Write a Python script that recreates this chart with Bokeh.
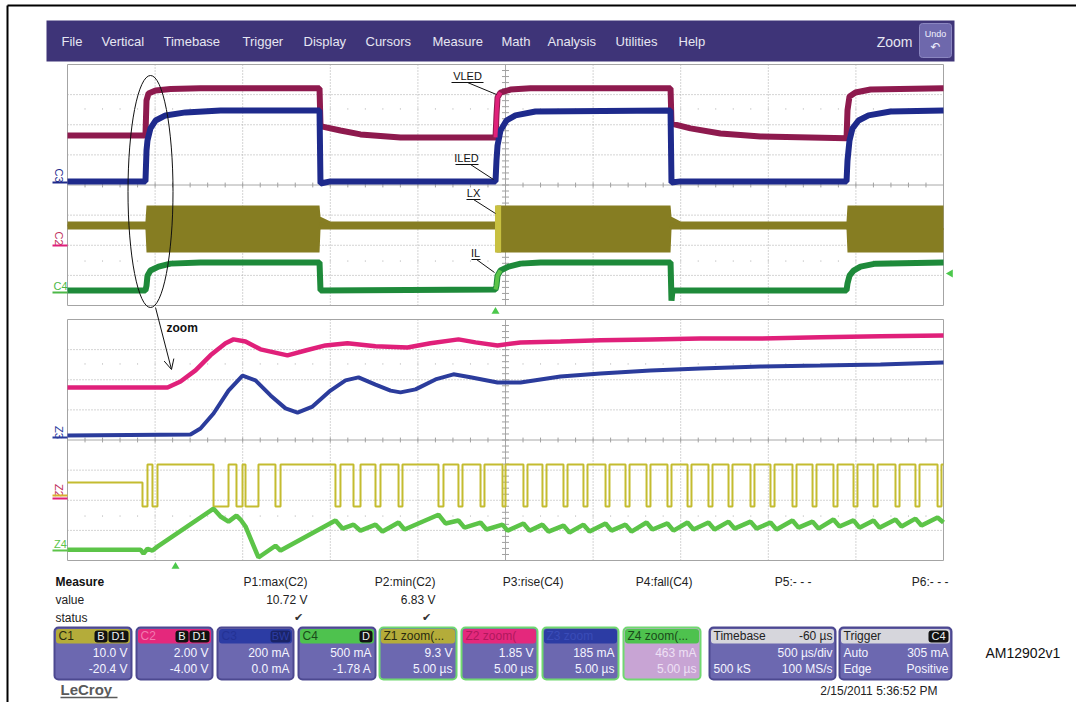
import math
from bokeh.plotting import figure
from bokeh.models import Range1d, Arrow, OpenHead
from bokeh.embed import file_html
from bokeh.resources import INLINE
from bokeh.core.properties import value

# ---------------- DATA (divisions: x 0..10, y -4..4) ----------------
# Upper panel (500 us/div)
vled_x = [0, 0.890, 0.902, 0.925, 1.005, 1.176, 1.518, 2.877, 2.888, 2.911, 3.116, 3.345, 3.801, 4.886,
          4.897, 4.909, 4.943, 5.057, 5.285, 6.884, 6.895, 7.112, 7.454, 7.911, 8.893, 8.904, 8.927, 8.995, 9.167, 10]
vled_y = [1.64, 1.64, 2.81, 3.04, 3.14, 3.19, 3.21, 3.21, 1.98, 1.94, 1.81, 1.68, 1.58, 1.58,
          2.31, 2.91, 3.07, 3.17, 3.21, 3.21, 2.04, 1.88, 1.71, 1.61, 1.55, 2.48, 2.94, 3.07, 3.17, 3.21]

iled_x = [0, 0.890, 0.902, 0.913, 0.947, 1.005, 1.119, 1.347, 1.747, 2.877, 2.888, 3.002, 4.886, 4.897, 4.909,
          4.943, 5.011, 5.114, 5.342, 6.884, 6.895, 6.998, 8.893, 8.904, 8.927, 8.961, 9.030, 9.144, 9.395, 10]
iled_y = [0.12, 0.12, 1.15, 1.48, 1.88, 2.14, 2.31, 2.41, 2.47, 2.47, 0.05, 0.12, 0.12, 0.81, 1.31,
          1.81, 2.14, 2.31, 2.44, 2.47, 0.08, 0.12, 0.12, 0.81, 1.48, 1.88, 2.14, 2.31, 2.44, 2.47]

lx_x = [0, 0.890, 0.902, 2.877, 2.888, 3.002, 4.886, 4.897, 6.884, 6.895, 7.000, 8.893, 8.904, 10]
lx_top = [-1.21, -1.21, -0.68, -0.68, -1.05, -1.21, -1.21, -0.68, -0.68, -1.05, -1.21, -1.21, -0.68, -0.68]
lx_bot = [-1.48, -1.48, -2.24, -2.24, -1.48, -1.48, -1.48, -2.24, -2.24, -1.48, -1.48, -1.48, -2.24, -2.24]

il_x = [0, 0.890, 0.902, 0.913, 0.947, 1.039, 1.176, 1.518, 2.877, 2.888, 4.886, 4.897, 4.909, 4.943,
        5.034, 5.171, 5.400, 6.884, 6.895, 6.906, 8.893, 8.904, 8.927, 8.973, 9.053, 9.224, 10]
il_y = [-3.50, -3.50, -3.34, -3.01, -2.84, -2.71, -2.61, -2.57, -2.57, -3.50, -3.47, -3.34, -3.01, -2.84,
        -2.71, -2.61, -2.57, -2.57, -3.84, -3.50, -3.50, -3.27, -3.01, -2.84, -2.71, -2.61, -2.57]

# zoom window shown highlighted on the upper traces (divisions)
zoom_win = [4.880, 4.950]

# Lower panel (zoom, 5 us/div)
z2_x = [0, 1.142, 1.290, 1.461, 1.632, 1.804, 1.895, 2.032, 2.203, 2.511, 2.717, 2.945, 3.196, 3.516,
        3.881, 4.144, 4.463, 4.658, 4.909, 5.171, 5.628, 6.084, 6.655, 7.226, 7.911, 8.596, 9.281, 10]
z2_y = [1.74, 1.74, 1.94, 2.31, 2.81, 3.21, 3.34, 3.27, 3.01, 2.81, 2.97, 3.14, 3.21, 3.11,
        3.07, 3.21, 3.34, 3.24, 3.14, 3.24, 3.27, 3.31, 3.34, 3.37, 3.37, 3.41, 3.44, 3.47]

z3_x = [0, 1.404, 1.518, 1.667, 1.838, 1.998, 2.146, 2.318, 2.489, 2.626, 2.797, 3.002, 3.174, 3.322, 3.516,
        3.688, 3.801, 3.973, 4.201, 4.406, 4.600, 4.909, 5.171, 5.628, 6.084, 6.655, 7.226, 7.911, 8.596, 9.281, 10]
z3_y = [0.15, 0.18, 0.38, 0.88, 1.64, 2.14, 1.98, 1.48, 1.05, 0.91, 1.11, 1.64, 1.98, 2.08, 1.84,
        1.64, 1.58, 1.68, 2.01, 2.18, 2.08, 1.91, 1.91, 2.11, 2.21, 2.31, 2.37, 2.44, 2.47, 2.51, 2.57]

z1_idle, z1_high, z1_low = -1.41, -0.81, -2.21
z1_pulse_start = [0.856, 0.970, 1.667, 1.929, 2.032, 2.374, 3.059, 3.265, 3.516, 3.779, 4.235, 4.463, 4.715,
                  4.966, 5.205, 5.422, 5.662, 5.890, 6.142, 6.370, 6.610, 6.849, 7.078, 7.317, 7.546, 7.797,
                  8.025, 8.276, 8.505, 8.744, 8.973, 9.201, 9.452, 9.680, 9.932]
z1_pulse_end = [0.913, 1.027, 1.838, 1.998, 2.180, 2.432, 3.116, 3.345, 3.573, 3.824, 4.292, 4.509, 4.760,
                5.000, 5.251, 5.468, 5.708, 5.936, 6.187, 6.416, 6.655, 6.895, 7.123, 7.363, 7.591, 7.842,
                8.071, 8.322, 8.550, 8.790, 9.018, 9.247, 9.498, 9.726, 9.977]

z4_x = [0, 0.833, 0.868, 0.913, 0.970, 1.027, 1.667, 1.747, 1.838, 1.929, 1.975, 2.032, 2.180, 2.374, 2.432,
        3.059, 3.139, 3.265, 3.345, 3.516, 3.596, 3.779, 3.847, 4.235, 4.315, 4.463, 4.532, 4.715, 4.783,
        4.966, 5.023, 5.205, 5.274, 5.422, 5.491, 5.662, 5.731, 5.890, 5.959, 6.142, 6.210, 6.370, 6.438,
        6.610, 6.678, 6.849, 6.918, 7.078, 7.146, 7.317, 7.386, 7.546, 7.614, 7.797, 7.865, 8.025, 8.094,
        8.276, 8.345, 8.505, 8.573, 8.744, 8.813, 8.973, 9.041, 9.201, 9.269, 9.452, 9.521, 9.680, 9.749,
        9.932, 10]
z4_y = [-3.64, -3.64, -3.77, -3.61, -3.67, -3.54, -2.28, -2.54, -2.71, -2.51, -2.64, -2.87, -3.90, -3.51, -3.67,
        -2.67, -2.94, -2.81, -3.01, -2.81, -3.04, -2.74, -2.97, -2.48, -2.77, -2.67, -2.91, -2.74, -2.97,
        -2.81, -3.01, -2.77, -3.01, -2.81, -3.04, -2.84, -3.07, -2.81, -3.04, -2.77, -3.01, -2.81, -3.04,
        -2.74, -2.97, -2.77, -3.01, -2.74, -2.97, -2.74, -2.97, -2.71, -2.94, -2.71, -2.94, -2.74, -2.97,
        -2.67, -2.91, -2.71, -2.94, -2.64, -2.87, -2.67, -2.91, -2.67, -2.91, -2.64, -2.87, -2.61, -2.84,
        -2.57, -2.74]

menu_items = ["File", "Vertical", "Timebase", "Trigger", "Display", "Cursors", "Measure", "Math",
              "Analysis", "Utilities", "Help"]
measure_heads = ["P1:max(C2)", "P2:min(C2)", "P3:rise(C4)", "P4:fall(C4)", "P5:- - -", "P6:- - -"]
measure_vals = ["10.72 V", "6.83 V", "", "", "", ""]
measure_ok = [True, True, False, False, False, False]

# ---------------- LAYOUT ----------------
W, H = 1076, 702
X0, Y0 = 0, 0
PX0, PX1 = 67, 943
UP_T, UP_B = 64, 305
LO_T, LO_B = 319, 560
FONT = value("Liberation Sans")

p = figure(width=W, height=H, output_backend="svg", toolbar_location=None,
           x_range=Range1d(X0, X0 + W), y_range=Range1d(Y0 + H, Y0),
           x_axis_location=None, y_axis_location=None, min_border=0)
p.grid.visible = False
p.outline_line_color = None
p.background_fill_color = "white"

xdiv = (PX1 - PX0) / 10.0
p.extra_x_ranges["t"] = Range1d((X0 - PX0) / xdiv, (X0 + W - PX0) / xdiv)
for name, t, b in (("u", UP_T, UP_B), ("l", LO_T, LO_B)):
    ydiv = (b - t) / 8.0
    c = (t + b) / 2.0
    p.extra_y_ranges[name] = Range1d((c - (Y0 + H)) / ydiv, (c - Y0) / ydiv)


def txt(x, y, s, size=12, color="#222222", align="left", bold=False, angle=0.0, font=FONT):
    p.text(x=[x], y=[y], text=[s], text_font=font, text_font_size=f"{size}px", text_color=color,
           text_align=align, text_baseline="middle", text_font_style="bold" if bold else "normal",
           angle=angle)


def in_win(xs, ys):
    pts = [(a, b) for a, b in zip(xs, ys) if zoom_win[0] <= a <= zoom_win[1]]
    return [a for a, _ in pts], [b for _, b in pts]


# outer frame (top/left)
p.segment(x0=[7, 7], y0=[5, 5], x1=[W, 7], y1=[5, H], line_color="black", line_width=2)

# menu bar
p.quad(left=[46], right=[954], top=[20], bottom=[61], fill_color="#3E3478", line_color=None)
menu_x = [61, 101, 163, 242, 303, 365, 432, 501, 547, 615, 678]
for mx, m in zip(menu_x, menu_items):
    txt(mx, 40.5, m, size=13, color="#E6E6F2")
txt(912, 41, "Zoom", size=14, color="#E6E6F2", align="right")
p.quad(left=[919], right=[951], top=[23], bottom=[57], fill_color="#6E68AC", line_color="#8A86C0", border_radius=3)
txt(935, 33, "Undo", size=9, color="#F0F0FF", align="center")
txt(935, 46, "↶", size=12, color="#F0F0FF", align="center", font=value("DejaVu Sans"))

# panels: grid
for yr in ("u", "l"):
    kw = dict(x_range_name="t", y_range_name=yr)
    vx = [[i, i] for i in range(1, 10) if i != 5]
    vy = [[-4, 4] for _ in vx]
    hy = [[j, j] for j in range(-3, 4) if j != 0]
    hx = [[0, 10] for _ in hy]
    p.multi_line(vx + hx, vy + hy, line_color="#A8A8A8", line_width=1, line_dash="1 2", **kw)
    p.multi_line([[5, 5], [0, 10]], [[-4, 4], [0, 0]], line_color="#A8A8A8", line_width=1, **kw)
    tk = [i * 0.2 for i in range(1, 50)]
    p.segment(x0=tk, y0=[-0.08] * len(tk), x1=tk, y1=[0.08] * len(tk), line_color="#A0A0A0", **kw)
    p.segment(x0=[4.96] * len(tk[:39]), y0=[v - 4 for v in tk[:39]], x1=[5.04] * len(tk[:39]),
              y1=[v - 4 for v in tk[:39]], line_color="#A0A0A0", **kw)
    # faint minor dot rows
    p.segment(x0=tk, y0=[2.5] * len(tk), x1=tk, y1=[2.55] * len(tk), line_color="#C8C8C8", **kw)
    p.segment(x0=tk, y0=[-2.5] * len(tk), x1=tk, y1=[-2.55] * len(tk), line_color="#C8C8C8", **kw)
    p.quad(left=[0], right=[10], top=[4], bottom=[-4], fill_color=None, line_color="#A4A4A4", line_width=1, **kw)

# upper traces
ku = dict(x_range_name="t", y_range_name="u")
p.varea(x=lx_x, y1=lx_bot, y2=lx_top, fill_color="#867D22", **ku)
p.line(lx_x, [(a + b) / 2 for a, b in zip(lx_top, lx_bot)], line_color="#867D22", line_width=2, **ku)
p.line(il_x, il_y, line_color="#1E8A3A", line_width=6, **ku)
p.line(vled_x, vled_y, line_color="#8E1A4E", line_width=6, **ku)
p.line(iled_x, iled_y, line_color="#1E2A8C", line_width=6, **ku)
# zoom-window highlight on upper traces
p.varea(x=zoom_win, y1=[-2.24, -2.24], y2=[-0.68, -0.68], fill_color="#C8C040", **ku)
hx_, hy_ = in_win(vled_x, vled_y)
p.line(hx_, hy_, line_color="#E0207A", line_width=4, **ku)
hx_, hy_ = in_win(il_x, il_y)
p.line(hx_, hy_, line_color="#5CC448", line_width=4, **ku)

# lower traces
kl = dict(x_range_name="t", y_range_name="l")
z1_x, z1_y = [0.0], [z1_idle]
lvl = z1_idle
for s, e in zip(z1_pulse_start, z1_pulse_end):
    z1_x += [s, s, e, e]
    z1_y += [lvl, z1_low, z1_low, z1_high]
    lvl = z1_high
z1_x.append(10.0)
z1_y.append(z1_high)
p.line(z1_x, z1_y, line_color="#C4BC30", line_width=2, **kl)
p.line(z4_x, z4_y, line_color="#5CC448", line_width=4.5, **kl)
p.line(z2_x, z2_y, line_color="#E0207A", line_width=4.5, **kl)
p.line(z3_x, z3_y, line_color="#2B3C9C", line_width=4, **kl)

# channel labels at left
txt(58, 175, "C3", size=11, color="#1E2A8C", align="center", angle=-math.pi / 2)
p.segment(x0=[52], y0=[182], x1=[67], y1=[182], line_color="#1E2A8C", line_width=2)
txt(58, 238, "C2", size=11, color="#C0305C", align="center", angle=-math.pi / 2)
p.segment(x0=[52], y0=[245], x1=[67], y1=[245], line_color="#E0207A", line_width=2)
txt(60, 285, "C4", size=11, color="#4CB848", align="center")
p.segment(x0=[52], y0=[292], x1=[67], y1=[292], line_color="#4CB848", line_width=2)
txt(58, 432, "Z3", size=11, color="#2B3C9C", align="center", angle=-math.pi / 2)
p.segment(x0=[52], y0=[437], x1=[67], y1=[437], line_color="#2B3C9C", line_width=2)
txt(58, 490, "Z2", size=11, color="#C0305C", align="center", angle=-math.pi / 2)
p.segment(x0=[52, 52], y0=[495, 498], x1=[67, 67], y1=[495, 498], line_color=["#D8B030", "#E0207A"], line_width=2)
txt(60, 543, "Z4", size=11, color="#5CC448", align="center")
p.segment(x0=[52], y0=[550], x1=[67], y1=[550], line_color="#5CC448", line_width=2)

# annotations
for s, tx, ty, ux0, ux1, lx0, ly0, lx1, ly1 in (
        ("VLED", 467, 75, 451, 483, 467, 82, 496, 94),
        ("ILED", 466, 157, 455, 478, 470, 164, 493, 179),
        ("LX", 473, 192, 466, 480, 473, 199, 495, 213),
        ("IL", 475, 252, 471, 480, 476, 259, 494, 272)):
    txt(tx, ty, s, size=11, color="#111111", align="center")
    p.segment(x0=[ux0, lx0], y0=[ty + 7, ly0], x1=[ux1, lx1], y1=[ty + 7, ly1], line_color="#111111", line_width=1)

p.ellipse(x=[150], y=[191], width=[45], height=[232], fill_color=None, line_color="#111111", line_width=1)
p.add_layout(Arrow(end=OpenHead(size=10, line_width=1, line_color="#111111"), x_start=155, y_start=307,
                   x_end=171, y_end=369, line_width=1, line_color="#111111"))
txt(166, 327, "zoom", size=12, color="#111111", bold=True)

p.scatter(x=[495, 175], y=[311, 566], marker="triangle", size=8, fill_color="#4CC84C", line_color=None)
p.scatter(x=[950], y=[273], marker="triangle", size=8, angle=math.pi / 2, fill_color="#4CC84C", line_color=None)

# measurement table
txt(55, 581, "Measure", size=12, color="#111111", bold=True)
txt(55, 599, "value", size=12, color="#222222")
txt(55, 617, "status", size=12, color="#222222")
col_r = [307, 435, 563, 692, 811, 948]
for r, h, v, ok in zip(col_r, measure_heads, measure_vals, measure_ok):
    txt(r, 581, h, size=12, color="#222222", align="right")
    if v:
        txt(r, 599, v, size=12, color="#222222", align="right")
    if ok:
        txt(r - 9, 617, "✔", size=11, color="#333333", align="center", font=value("DejaVu Sans"))

# channel / zoom boxes
BODY = "#6C68B0"
boxes = [
    (54, 131, "#B4AC3A", "C1", "#2A2A10", ["B", "D1"], ["10.0 V", "-20.4 V"], BODY, "#4C4890"),
    (136, 212, "#E4287C", "C2", "#F27AB0", ["B", "D1"], ["2.00 V", "-4.00 V"], BODY, "#4C4890"),
    (217, 293, "#2C3CA4", "C3", "#243294", ["BW"], ["200 mA", "0.0 mA"], BODY, "#4C4890"),
    (298, 375, "#4EC24E", "C4", "#1A4A1A", ["D"], ["500 mA", "-1.78 A"], BODY, "#4C4890"),
    (379, 456, "#B4AC3A", "Z1 zoom(...", "#2A2A10", [], ["9.3 V", "5.00 µs"], BODY, "#70D870"),
    (461, 537, "#E4287C", "Z2 zoom(", "#B0185C", [], ["1.85 V", "5.00 µs"], BODY, "#70D870"),
    (542, 618, "#2C3CA4", "Z3 zoom", "#3A4CB8", [], ["185 mA", "5.00 µs"], BODY, "#70D870"),
    (623, 700, "#4EC24E", "Z4 zoom(...", "#1A4A1A", [], ["463 mA", "5.00 µs"], "#C8A4D4", "#70D870"),
]
BT, HB, BB = 627, 643, 679
for l, r, hc, ht, htc, badges, lines, bc, brd in boxes:
    p.quad(left=[l], right=[r], top=[BT], bottom=[BB], fill_color=bc, line_color=brd, line_width=2, border_radius=4)
    p.quad(left=[l + 1.5], right=[r - 1.5], top=[BT + 1.5], bottom=[HB], fill_color=hc, line_color=None, border_radius=3)
    txt(l + 4, 635.5, ht, size=12, color=htc)
    bx = r - 3
    for b in reversed(badges):
        bw = 6 + 7 * len(b)
        p.quad(left=[bx - bw], right=[bx], top=[BT + 3], bottom=[HB - 1], fill_color="#111111" if ht != "C3" else "#1A2468",
               line_color=None, border_radius=3)
        txt(bx - bw / 2, 635.5, b, size=11, color="#F0F0F0" if ht != "C3" else "#2C3CA4", align="center")
        bx -= bw + 1
    tc = "#F4F4FF" if bc == BODY else "#EEE0F4"
    txt(r - 4, 652, lines[0], size=12, color=tc, align="right")
    txt(r - 4, 668, lines[1], size=12, color=tc, align="right")

# timebase and trigger
for l, r in ((709, 835), (839, 951)):
    p.quad(left=[l], right=[r], top=[BT], bottom=[BB], fill_color=BODY, line_color="#4C4890", line_width=2, border_radius=4)
    p.quad(left=[l + 1.5], right=[r - 1.5], top=[BT + 1.5], bottom=[HB], fill_color="#D6D6DC", line_color=None, border_radius=3)
txt(713, 635.5, "Timebase", size=12, color="#222222")
txt(832, 635.5, "-60 µs", size=12, color="#222222", align="right")
txt(832, 652, "500 µs/div", size=12, color="#F4F4FF", align="right")
txt(713, 668, "500 kS", size=12, color="#F4F4FF")
txt(832, 668, "100 MS/s", size=12, color="#F4F4FF", align="right")
txt(843, 635.5, "Trigger", size=12, color="#222222")
p.quad(left=[928], right=[948], top=[BT + 3], bottom=[HB - 1], fill_color="#111111", line_color=None, border_radius=3)
txt(938, 635.5, "C4", size=11, color="#F0F0F0", align="center")
txt(843, 652, "Auto", size=12, color="#F4F4FF")
txt(948, 652, "305 mA", size=12, color="#F4F4FF", align="right")
txt(843, 668, "Edge", size=12, color="#F4F4FF")
txt(948, 668, "Positive", size=12, color="#F4F4FF", align="right")

# footer
txt(60, 689, "LeCroy", size=15, color="#5A5A5A", bold=True)
p.segment(x0=[60], y0=[697], x1=[117], y1=[697], line_color="#5A5A5A", line_width=1.5)
txt(937, 690, "2/15/2011 5:36:52 PM", size=12, color="#222222", align="right")
txt(985, 652, "AM12902v1", size=14, color="#111111")

open("out.html", "w").write(file_html(p, INLINE))
